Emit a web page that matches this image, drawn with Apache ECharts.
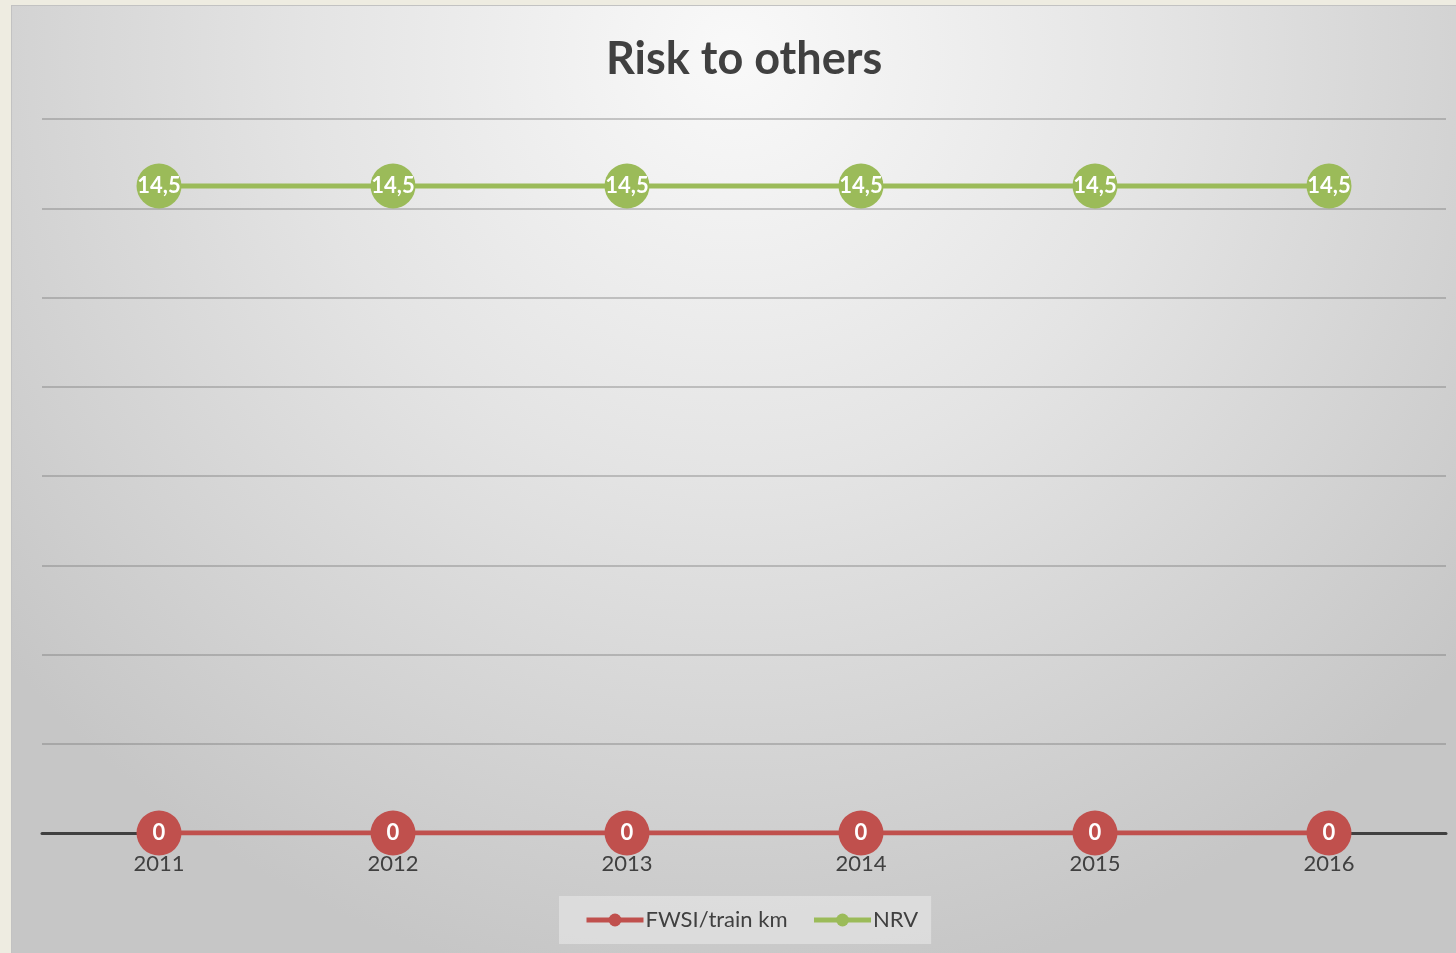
<!DOCTYPE html>
<html>
<head>
<meta charset="utf-8">
<script src="https://cdn.jsdelivr.net/npm/echarts@6/dist/echarts.min.js"></script>
<style>
html,body{margin:0;padding:0;background:#EEECE1;width:1456px;height:953px;overflow:hidden;}
#chart{position:absolute;left:11px;top:5px;width:1445px;height:948px;box-sizing:border-box;border-top:1px solid #c2c2c2;border-left:1px solid #c2c2c2;}
</style>
</head>
<body>
<div id="chart"></div>
<script>
const title = 'Risk to others';
const years = ['2011','2012','2013','2014','2015','2016'];
const fwsi = [0,0,0,0,0,0];
const nrv = [14.5,14.5,14.5,14.5,14.5,14.5];
const seriesNames = ['FWSI/train km','NRV'];

const FONT = 'Lato, "Open Sans", sans-serif';
const chart = echarts.init(document.getElementById('chart'));
const labelFmt = p => String(p.value).replace('.', ',');
chart.setOption({
  backgroundColor: {
    type: 'radial', x: 0.5, y: 0.05, r: 1.0,
    colorStops: [{offset: 0, color: '#f9f9f9'}, {offset: 0.45, color: '#e4e4e4'}, {offset: 1, color: '#c6c6c6'}]
  },
  title: {
    text: title, left: 589, top: 26,
    textStyle: {fontFamily: FONT, fontSize: 45, fontWeight: 'bold', color: '#404040'}
  },
  legend: {
    data: seriesNames, top: 890, left: 547,
    backgroundColor: 'rgba(235,235,235,0.55)',
    padding: [13, 13, 13, 25],
    itemGap: 24, itemWidth: 57, itemHeight: 16,
    lineStyle: {width: 5},
    itemStyle: {},
    textStyle: {fontFamily: FONT, fontSize: 22, color: '#404040', padding: [0,0,0,-3]}
  },
  grid: {left: 30, right: 10, top: 113, bottom: 120, containLabel: false},
  xAxis: {
    type: 'category', data: years, boundaryGap: true,
    axisLine: {lineStyle: {color: '#404040', width: 3}},
    axisTick: {show: false},
    axisLabel: {fontFamily: FONT, fontSize: 22, color: '#404040', margin: 20},
    splitLine: {show: false}, z: 1
  },
  yAxis: {
    type: 'value', min: 0, max: 16, interval: 2,
    axisLine: {show: false}, axisTick: {show: false}, axisLabel: {show: false},
    splitLine: {lineStyle: {color: 'rgba(110,110,110,0.35)', width: 2}}
  },
  series: [
    {
      name: seriesNames[0], type: 'line', data: fwsi,
      symbol: 'circle', symbolSize: 45, z: 5,
      itemStyle: {color: '#C0504D'},
      lineStyle: {color: '#C0504D', width: 5},
      label: {show: true, position: 'inside', formatter: labelFmt, color: '#ffffff',
              fontFamily: FONT, fontSize: 22, fontWeight: 'bold'}
    },
    {
      name: seriesNames[1], type: 'line', data: nrv,
      symbol: 'circle', symbolSize: 45, z: 5,
      itemStyle: {color: '#9BBB59'},
      lineStyle: {color: '#9BBB59', width: 5},
      label: {show: true, position: 'inside', formatter: labelFmt, color: '#ffffff',
              fontFamily: FONT, fontSize: 22, fontWeight: 'bold'}
    }
  ]
});
</script>
</body>
</html>
